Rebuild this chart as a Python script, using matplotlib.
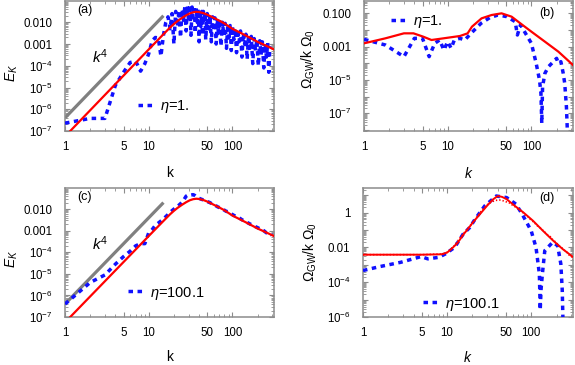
import numpy as np
import matplotlib
matplotlib.use("Agg")
import matplotlib.pyplot as plt
from matplotlib.ticker import FixedLocator, LogLocator, FuncFormatter, NullFormatter

plt.rcParams['font.family'] = ['Liberation Sans', 'DejaVu Sans']
plt.rcParams['mathtext.fontset'] = 'custom'
plt.rcParams['mathtext.rm'] = 'Liberation Sans'
plt.rcParams['mathtext.it'] = 'Liberation Sans:italic'
plt.rcParams['mathtext.bf'] = 'Liberation Sans:bold'

# ---------------- data (log10 values) ----------------
# reference k^4 line
kline = [1, 15]
Eline = [4.0e-7, 2.0e-2]

# model energy spectrum (red) for panels a, c
k_model = [1, 10, 15, 18, 20, 22, 25, 28, 31, 34, 37, 40, 45, 50, 60, 70, 80, 100, 130, 160, 200, 250, 314]
logE_model = [-7.25, -3.25, -2.55, -2.24, -2.08, -1.95, -1.8, -1.68, -1.59, -1.54, -1.52, -1.53, -1.58,
              -1.65, -1.8, -1.93, -2.05, -2.3, -2.52, -2.7, -2.9, -3.07, -3.25]

# panel a: eta = 1.
k_a = [1, 2, 3, 4, 5, 6, 7, 8, 9, 10, 11, 12, 13, 14, 15, 16,
       17, 18, 19, 20, 21, 22, 23, 24, 25, 26, 27, 28, 29, 30, 31, 32, 33, 34, 35, 36, 37, 38, 39, 40,
       41, 42, 43, 44, 45, 46, 47, 48, 50, 52, 54, 56, 58, 60, 62, 64, 66, 68, 70, 73, 76, 79, 82, 85,
       88, 91, 94, 97, 100, 104, 108, 112, 116, 120, 125, 130, 135, 140, 145, 150, 156, 162, 168, 175,
       182, 189, 196, 204, 212, 220, 228, 237, 246, 255, 264, 272, 280]
logE_a = [-6.64, -6.42, -6.42, -4.9, -4.3, -3.85, -3.79, -4.25, -3.9, -3.45, -2.85, -2.7, -2.72, -3.56, -2.6, -2.0,
          -1.75, -2.3, -1.6, -3.0, -1.5, -2.2, -1.45, -2.7, -1.4, -1.9, -1.3, -2.4, -1.25, -2.0, -1.2, -2.6,
          -1.3, -1.8, -1.25, -2.5, -1.35, -2.0, -1.4, -2.9, -1.45, -2.2, -1.5, -2.6, -1.5, -2.0, -1.6, -2.8,
          -1.6, -2.3, -1.7, -2.9, -1.75, -2.4, -1.8, -3.0, -1.85, -2.5, -1.9, -3.1, -2.0, -2.6, -2.05, -3.2,
          -2.1, -2.7, -2.15, -3.3, -2.2, -2.8, -2.3, -3.4, -2.35, -2.9, -2.4, -3.6, -2.5, -3.0, -2.55, -3.7,
          -2.6, -3.2, -2.65, -3.9, -2.75, -3.3, -2.8, -4.0, -2.85, -3.5, -2.9, -4.1, -3.0, -3.6, -2.95, -4.3, -3.1]

# panel b: GW spectrum, eta = 1.
k_b_model = [1, 1.8, 3.0, 3.9, 5.1, 6.4, 8.9, 14, 17.3, 19.5, 25.4, 33.5, 44, 58, 76, 100, 145, 210, 314]
logO_b_model = [-2.8, -2.5, -2.2, -2.2, -2.4, -2.6, -2.5, -2.36, -2.2, -1.8, -1.3, -1.1, -1.0, -1.2, -1.65,
                -2.1, -2.7, -3.3, -4.1]
k_b = [1, 1.8, 3, 4, 5, 6, 7, 8, 9, 10, 11, 12, 14, 16, 19, 25, 32, 40, 51, 64, 68, 74, 85, 100, 114,
       125, 130, 133, 136, 145, 160, 183, 200, 210, 225, 240, 250, 262, 270]
logO_b = [-2.56, -2.9, -3.6, -2.5, -2.5, -3.6, -2.8, -2.6, -3.2, -2.7, -3.1, -2.6, -2.5, -2.6, -2.2, -1.6,
          -1.25, -1.1, -1.2, -1.5, -2.3, -1.7, -2.2, -2.8, -4.0, -5.0, -5.8, -7.6, -5.4, -4.6, -4.2, -3.9,
          -3.7, -4.0, -3.9, -4.6, -5.2, -6.6, -8.3]

# panel c: eta = 100.1
k_c = [1, 2, 3, 4, 5, 6, 7, 8, 9, 10, 11, 12, 13, 14, 15, 16, 17, 18, 20, 22, 24, 26, 28, 30, 32, 34, 36,
       38, 40, 43, 46, 50, 54, 58, 62, 67, 72, 78, 84, 90, 97, 105, 113, 122, 131, 141, 152, 164, 177,
       190, 205, 220, 237, 255, 275, 295]
logE_c = [-6.4, -5.4, -5.05, -4.55, -4.2, -3.95, -3.7, -3.6, -3.6, -3.1, -2.95, -2.75, -2.65, -2.55, -2.45,
          -2.35, -2.25, -2.15, -2.0, -1.88, -1.75, -1.6, -1.4, -1.33, -1.35, -1.33, -1.38, -1.45, -1.5,
          -1.55, -1.58, -1.65, -1.7, -1.78, -1.82, -1.9, -1.95, -2.02, -2.1, -2.13, -2.22, -2.3, -2.33,
          -2.42, -2.5, -2.55, -2.63, -2.7, -2.74, -2.82, -2.88, -2.95, -3.0, -3.1, -3.12, -3.2]

# panel d: GW spectrum, eta = 100.1
k_d_model = [1, 5, 8.5, 10, 11.2, 13.3, 16, 18, 20, 25, 30, 35, 40, 45, 51, 64, 81, 105, 138, 181, 237, 314]
logO_d_model = [-2.42, -2.42, -2.4, -2.3, -2.1, -1.75, -1.2, -0.9, -0.6, -0.05, 0.4, 0.75, 0.95, 0.9, 0.77,
                0.38, 0.0, -0.47, -1.05, -1.6, -2.1, -2.55]
k_d_dots = [1, 5, 9, 10, 12, 14, 16, 18, 20, 23, 26, 30, 34, 38, 42, 46, 50, 55, 60, 66, 72, 78, 85, 92,
            100, 108, 117, 126, 136, 147, 158, 170, 183, 197, 212, 228, 245, 263, 283, 300, 314]
logO_d_dots = [-2.42, -2.42, -2.38, -2.28, -1.95, -1.5, -1.15, -0.85, -0.6, -0.2, 0.15, 0.45, 0.62, 0.7,
               0.72, 0.68, 0.62, 0.55, 0.42, 0.3, 0.16, 0.05, -0.15, -0.25, -0.45, -0.55, -0.75, -0.85,
               -1.0, -1.15, -1.3, -1.4, -1.6, -1.7, -1.9, -2.0, -2.15, -2.25, -2.45, -2.5, -2.7]
k_d = [1, 1.6, 2.8, 4.9, 5.9, 8, 9.5, 12.3, 15.5, 18.6, 21.5, 28, 38.5, 51, 66, 78, 100, 114, 125, 128,
       131, 136, 145, 165, 180, 206, 225, 234, 238, 242]
logO_d = [-3.33, -3.1, -2.86, -2.53, -2.66, -2.57, -2.38, -2.0, -1.24, -0.86, -0.38, 0.38, 0.95, 0.86,
          0.48, -0.09, -1.05, -2.0, -3.52, -5.6, -4.4, -3.5, -2.19, -1.9, -1.71, -1.9, -2.95, -4.47, -6.0, -7.0]

# ---------------- styling helpers ----------------
BLUE = '#1010ff'
RED = '#ff0000'
GRAY = '#808080'
SPINE = '#8c8c8c'

def pw(a):
    return 10.0 ** np.asarray(a, dtype=float)

def style_axes(ax, ylabels, ylim):
    ax.set_xscale('log')
    ax.set_yscale('log')
    ax.set_xlim(1, 314)
    ax.set_ylim(*ylim)
    for s in ax.spines.values():
        s.set_color(SPINE)
        s.set_linewidth(1.1)
    ax.xaxis.set_major_locator(FixedLocator([1, 5, 10, 50, 100]))
    ax.xaxis.set_major_formatter(FuncFormatter(lambda v, p: '%d' % round(v)))
    ax.xaxis.set_minor_locator(LogLocator(base=10, subs=np.arange(2, 10), numticks=20))
    ax.xaxis.set_minor_formatter(NullFormatter())
    ax.yaxis.set_major_locator(LogLocator(base=10, numticks=30))
    ax.yaxis.set_minor_locator(LogLocator(base=10, subs=np.arange(2, 10), numticks=30))
    ax.yaxis.set_minor_formatter(NullFormatter())

    def yfmt(v, p):
        e = int(round(np.log10(v)))
        return ylabels.get(e, '')
    ax.yaxis.set_major_formatter(FuncFormatter(yfmt))
    ax.tick_params(which='both', direction='in', top=True, right=True, color=SPINE, labelsize=8.3)
    ax.tick_params(which='major', length=3.5, width=0.8)
    ax.tick_params(which='minor', length=2, width=0.6)
    ax.tick_params(axis='y', pad=9)
    ax.tick_params(axis='x', pad=7)


fig = plt.figure(figsize=(5.75, 3.65), dpi=100)
W, H = 575.0, 365.0

def add_ax(left, top, right, bottom):
    return fig.add_axes([left / W, 1 - bottom / H, (right - left) / W, (bottom - top) / H])

axa = add_ax(65, 1, 274, 131)
axb = add_ax(364, 1, 573, 131)
axc = add_ax(65, 188, 274, 317)
axd = add_ax(363, 188, 573, 317)

labA = {-2: '0.010', -3: '0.001', -4: r'$10^{-4}$', -5: r'$10^{-5}$', -6: r'$10^{-6}$', -7: r'$10^{-7}$'}
labB = {-1: '0.100', -3: '0.001', -5: r'$10^{-5}$', -7: r'$10^{-7}$'}
labD = {0: '1', -2: '0.01', -4: r'$10^{-4}$', -6: r'$10^{-6}$'}

style_axes(axa, labA, (1e-7, 0.095))
style_axes(axc, labA, (1e-7, 0.095))
style_axes(axb, labB, (10 ** -8.06, 10 ** -0.26))
style_axes(axd, labD, (1e-6, 10 ** 1.41))

dash = (1.3, 1.3)
lw_b = 2.5

# panel a
axa.plot(kline, Eline, color=GRAY, lw=2.3, solid_capstyle='butt', zorder=2)
axa.plot(k_a, pw(logE_a), color=BLUE, lw=lw_b, dashes=dash, label=r'$\eta$=1.', zorder=3)
axa.plot(k_model, pw(logE_model), color=RED, lw=1.6, zorder=4)

# panel c
axc.plot(kline, Eline, color=GRAY, lw=2.3, solid_capstyle='butt', zorder=2)
axc.plot(k_c, pw(logE_c), color=BLUE, lw=lw_b, dashes=dash, label=r'$\eta$=100.1', zorder=3)
axc.plot(k_model, pw(logE_model), color=RED, lw=1.6, zorder=4)

# panel b
axb.plot(k_b, pw(logO_b), color=BLUE, lw=lw_b, dashes=dash, label=r'$\eta$=1.', zorder=3)
axb.plot(k_b_model, pw(logO_b_model), color=RED, lw=1.6, zorder=4)

# panel d
axd.plot(k_d_model, pw(logO_d_model), color=RED, lw=1.4, zorder=4)
axd.plot(k_d_dots, pw(logO_d_dots), color=RED, lw=1.2, dashes=(0.8, 1.2), zorder=4)
axd.plot(k_d, pw(logO_d), color=BLUE, lw=lw_b, dashes=dash, label=r'$\eta$=100.1', zorder=3)

# labels
for ax in (axa, axc):
    ax.set_xlabel('k', fontsize=10)
    ax.set_ylabel(r'$E_K$', fontsize=10)
    ax.text(0.17, 0.57, r'$k^4$', transform=ax.transAxes, fontsize=11, ha='center', va='center')
for ax in (axb, axd):
    ax.set_xlabel(r'$k$', fontsize=10)
    ax.set_ylabel(r'$\Omega_{\mathrm{GW}}/\mathrm{k}\ \Omega_0$', fontsize=10)

axa.xaxis.set_label_coords(0.5, -0.27)
axb.xaxis.set_label_coords(0.5, -0.27)
axc.xaxis.set_label_coords(0.5, -0.255)
axd.xaxis.set_label_coords(0.5, -0.255)
axa.yaxis.set_label_coords(-0.215, 0.45)
axc.yaxis.set_label_coords(-0.215, 0.45)
axb.yaxis.set_label_coords(-0.225, 0.55)
axd.yaxis.set_label_coords(-0.21, 0.5)

axa.text(0.06, 0.93, '(a)', transform=axa.transAxes, fontsize=9, va='center', ha='left')
axb.text(0.84, 0.91, '(b)', transform=axb.transAxes, fontsize=9, va='center', ha='left')
axc.text(0.06, 0.93, '(c)', transform=axc.transAxes, fontsize=9, va='center', ha='left')
axd.text(0.84, 0.92, '(d)', transform=axd.transAxes, fontsize=9, va='center', ha='left')

leg_kw = dict(frameon=False, fontsize=10.5, handlelength=1.0, handletextpad=0.5,
              borderpad=0, borderaxespad=0, loc='center left')
axa.legend(bbox_to_anchor=(0.35, 0.19), **leg_kw)
axb.legend(bbox_to_anchor=(0.13, 0.84), **leg_kw)
axc.legend(bbox_to_anchor=(0.30, 0.186), **leg_kw)
axd.legend(bbox_to_anchor=(0.287, 0.10), **leg_kw)

fig.savefig('out.png', dpi=100)
